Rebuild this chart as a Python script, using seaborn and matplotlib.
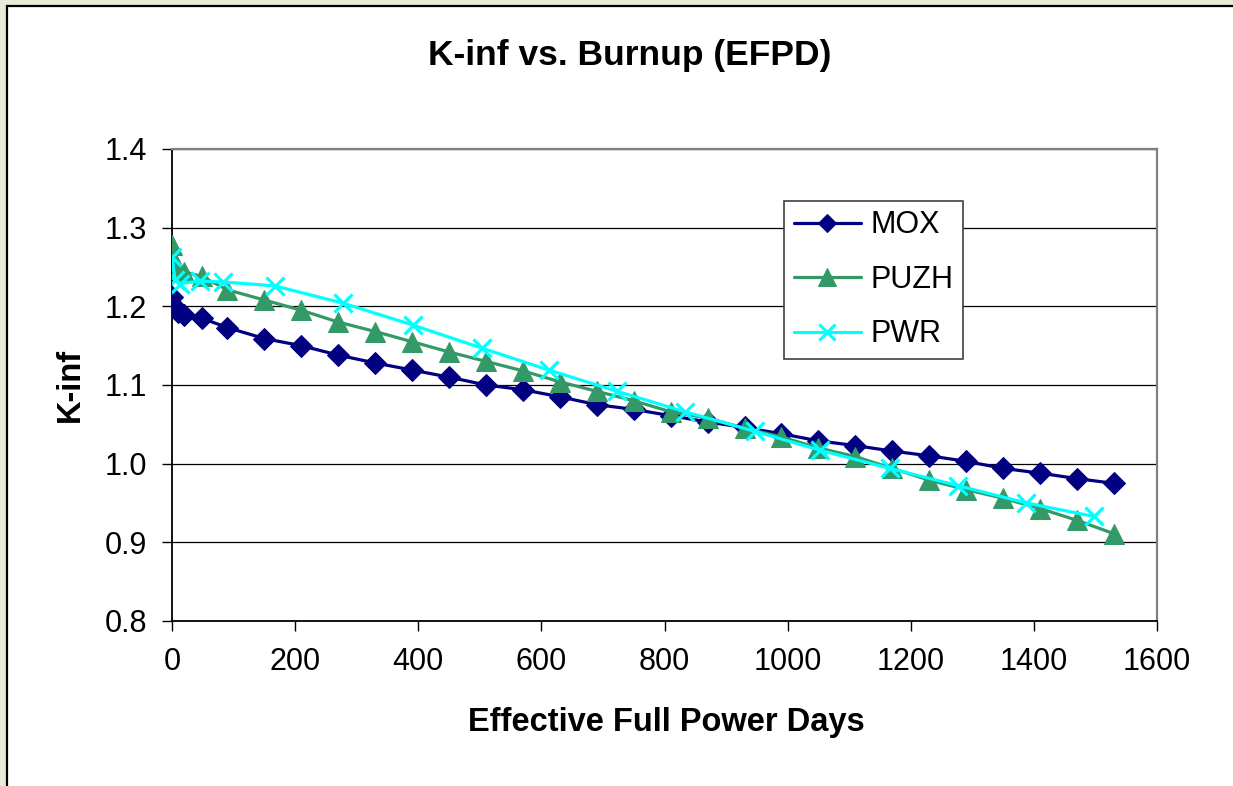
import matplotlib
matplotlib.use("Agg")
import matplotlib.pyplot as plt
from matplotlib.patches import Rectangle
import seaborn as sns
import numpy as np

# ---- data ----
mox_days = [0, 1, 10, 20, 48, 90, 150, 210, 270, 330, 390, 450, 510, 570, 630, 690,
            750, 810, 870, 930, 990, 1050, 1110, 1170, 1230, 1290, 1350, 1410, 1470, 1530]
mox_kinf = [1.212, 1.202, 1.193, 1.189, 1.185, 1.173, 1.159, 1.150, 1.138, 1.128,
            1.119, 1.110, 1.100, 1.094, 1.085, 1.075, 1.069, 1.061, 1.053, 1.046,
            1.038, 1.029, 1.023, 1.016, 1.010, 1.003, 0.994, 0.988, 0.981, 0.975]

puzh_days = mox_days
puzh_kinf = [1.278, 1.261, 1.248, 1.244, 1.238, 1.221, 1.208, 1.195, 1.180, 1.168,
             1.155, 1.142, 1.130, 1.118, 1.104, 1.092, 1.080, 1.066, 1.058, 1.045,
             1.034, 1.020, 1.009, 0.994, 0.979, 0.967, 0.956, 0.943, 0.928, 0.911]

pwr_days = [0, 5, 13, 45, 83, 167, 278, 392, 503, 612, 723, 833, 947, 1053, 1166,
            1277, 1388, 1497]
pwr_kinf = [1.263, 1.234, 1.229, 1.232, 1.231, 1.226, 1.204, 1.176, 1.147, 1.119,
            1.092, 1.066, 1.041, 1.017, 0.994, 0.972, 0.950, 0.933]

x_ticks = [0, 200, 400, 600, 800, 1000, 1200, 1400, 1600]
y_ticks = [0.8, 0.9, 1.0, 1.1, 1.2, 1.3, 1.4]

title = "K-inf vs. Burnup (EFPD)"
xlabel = "Effective Full Power Days"
ylabel = "K-inf"

# ---- style ----
sns.set_theme(style="white")
plt.rcParams['font.family'] = ['Liberation Sans', 'DejaVu Sans']
plt.rcParams['text.color'] = 'black'

W, H = 1233, 786
fig = plt.figure(figsize=(W / 100, H / 100), dpi=100)
fig.patch.set_facecolor('#EAEADB')
# white chart area with black border
bg = Rectangle((7 / W, -0.01), 1.02, 1 - 6 / H + 0.01,
               transform=fig.transFigure, facecolor='white',
               edgecolor='black', linewidth=1.6, zorder=-5)
fig.patches.append(bg)

ax = fig.add_axes([172 / W, 1 - 621 / H, (1157 - 172) / W, (621 - 149) / H])
ax.set_zorder(2)
ax.set_facecolor('white')

sns.lineplot(x=mox_days, y=mox_kinf, ax=ax, color='#000080', marker='D',
             markersize=11, markeredgecolor='#000080', linewidth=2.3,
             label='MOX', sort=False, estimator=None, zorder=3)
sns.lineplot(x=puzh_days, y=puzh_kinf, ax=ax, color='#339966', marker='^',
             markersize=14.5, markeredgecolor='#339966', linewidth=2.3,
             label='PUZH', sort=False, estimator=None, zorder=4)
sns.lineplot(x=pwr_days, y=pwr_kinf, ax=ax, color='#00FFFF', marker='x',
             markersize=13, markeredgewidth=2.3, markeredgecolor='#00FFFF',
             linewidth=2.3, label='PWR', sort=False, estimator=None, zorder=5)

ax.set_xlim(0, 1600)
ax.set_ylim(0.8, 1.4)
ax.set_xticks(x_ticks)
ax.set_yticks(y_ticks)
ax.set_yticklabels([f"{v:.1f}" for v in y_ticks])
ax.set_xticklabels([str(v) for v in x_ticks])
ax.tick_params(axis='both', which='major', labelsize=22, colors='black',
               direction='out', width=1.0, bottom=True, left=True)
ax.tick_params(axis='y', length=7, pad=11)
ax.tick_params(axis='x', length=7, pad=12)
ax.yaxis.grid(True, color='black', linewidth=0.9)
ax.xaxis.grid(False)
ax.set_axisbelow(True)
for s in ['left', 'bottom']:
    ax.spines[s].set_color('black')
    ax.spines[s].set_linewidth(1.3)
for s in ['top', 'right']:
    ax.spines[s].set_color('#808080')
    ax.spines[s].set_linewidth(1.6)
ax.set_xlabel('')
ax.set_ylabel('')

leg = ax.legend(loc='upper left', bbox_to_anchor=((784 - 172) / 985, (621 - 200.7) / 472),
                borderaxespad=0, fontsize=22, frameon=True, fancybox=False,
                framealpha=1, edgecolor='#404040', handlelength=2.2,
                labelspacing=0.8, borderpad=0.32, handletextpad=0.3)
leg.get_frame().set_linewidth(1.2)
for t in leg.get_texts():
    t.set_color('black')
sizes = [9.5, 12.5, 12]
for h, s in zip(leg.legend_handles, sizes):
    h.set_markersize(s)

fig.text(630 / W, 1 - 55 / H, title, ha='center', va='center',
         fontsize=25.5, fontweight='bold', color='black')
fig.text(666 / W, 1 - 723 / H, xlabel, ha='center', va='center',
         fontsize=23.5, fontweight='bold', color='black')
fig.text(70 / W, 1 - 385 / H, ylabel, ha='center', va='center',
         fontsize=23.5, fontweight='bold', rotation=90, color='black')

fig.savefig('out.png', dpi=100, facecolor=fig.get_facecolor())
